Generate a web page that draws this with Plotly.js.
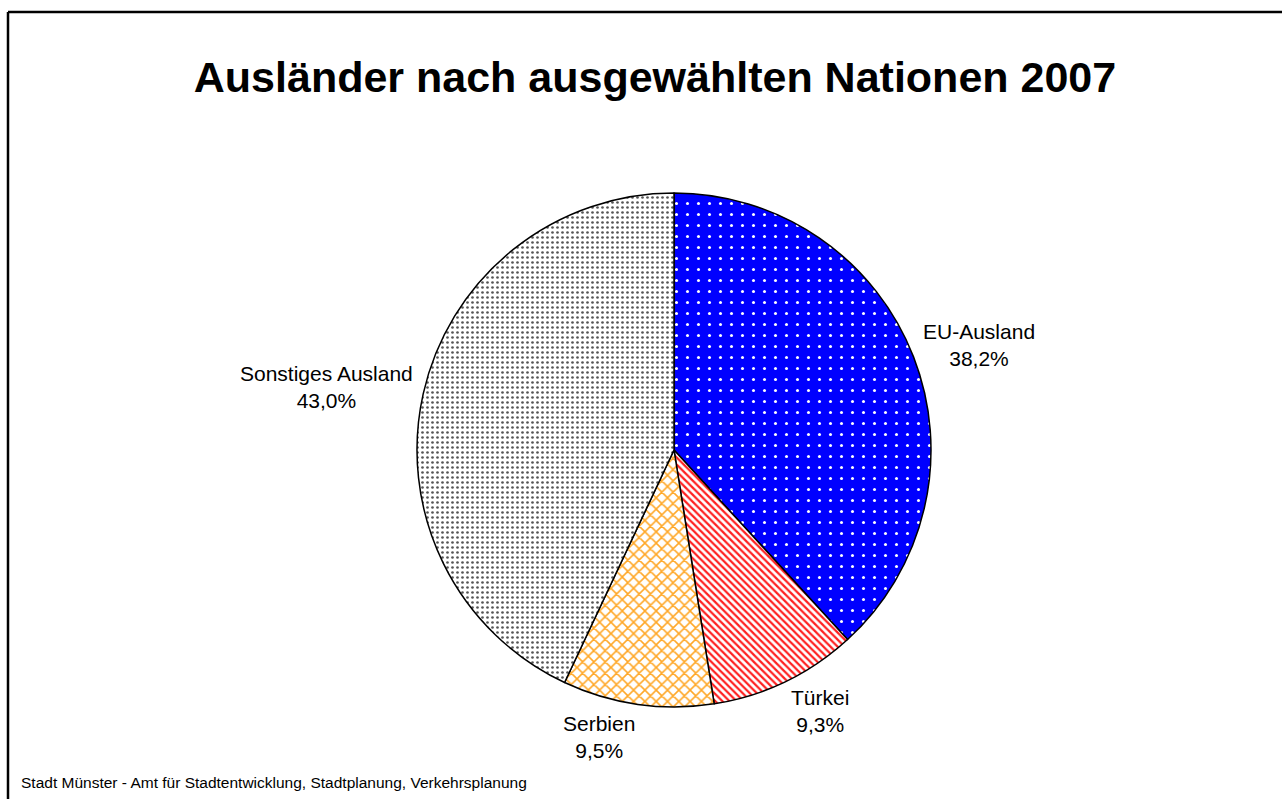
<!DOCTYPE html>
<html>
<head>
<meta charset="utf-8">
<script src="https://cdn.plot.ly/plotly-3.0.1.min.js"></script>
<style>
html,body{margin:0;padding:0;background:#fff;}
#chart{width:1282px;height:799px;}
</style>
</head>
<body>
<div id="chart"></div>
<script>
var categories = ["EU-Ausland", "Türkei", "Serbien", "Sonstiges Ausland"];
var shares = [38.2, 9.3, 9.5, 43.0];
var titleText = "Ausländer nach ausgewählten Nationen 2007";
var sourceText = "Stadt Münster - Amt für Stadtentwicklung, Stadtplanung, Verkehrsplanung";

var W = 1282, H = 799;
var cx = 674, cy = 450, R = 257;
var FONT = "Liberation Sans, Arial, sans-serif";
var LABEL_SIZE = 21;

var trace = {
  type: "pie",
  labels: categories,
  values: shares,
  sort: false,
  direction: "clockwise",
  rotation: 0,
  textinfo: "none",
  hoverinfo: "label+value",
  automargin: false,
  showlegend: false,
  domain: {
    x: [(cx - R) / W, (cx + R) / W],
    y: [(H - cy - R) / H, (H - cy + R) / H]
  },
  marker: {
    colors: ["#0000ff", "#ffffff", "#ffffff", "#ffffff"],
    line: {color: "#000", width: 1.5},
    pattern: {
      shape: [".", "\\", "x", "."],
      fgcolor: ["#ffffff", "#ff2020", "#ffa726", "#555555"],
      bgcolor: ["#0000ff", "#ffffff", "#ffffff", "#ffffff"],
      size: [11, 5, 8, 5],
      solidity: [0.06, 0.45, 0.35, 0.22],
      fillmode: "replace"
    }
  }
};

// outside labels placed at each slice's mid-angle (derived from the data)
var total = shares.reduce(function (a, b) { return a + b; }, 0);
var annotations = [];
var cum = 0;
var rl = R + 8;
var boxH = 50;
for (var i = 0; i < shares.length; i++) {
  var mid = (cum + shares[i] / 2) / total * 2 * Math.PI;
  cum += shares[i];
  var s = Math.sin(mid), c = Math.cos(mid);
  var px = cx + rl * s, py = cy - rl * c - c * boxH / 2;
  annotations.push({
    text: categories[i] + "<br>" + shares[i].toFixed(1).replace(".", ",") + "%",
    xref: "paper", yref: "paper",
    x: px / W, y: 1 - py / H,
    xanchor: s > 0.1 ? "left" : (s < -0.1 ? "right" : "center"),
    yanchor: "middle",
    align: "center",
    showarrow: false,
    font: {family: FONT, size: LABEL_SIZE, color: "#000"}
  });
}
annotations.push({
  text: sourceText,
  xref: "paper", yref: "paper",
  x: 19 / W, y: 1 - 782 / H,
  xanchor: "left", yanchor: "middle",
  showarrow: false,
  font: {family: FONT, size: 15.5, color: "#000"}
});

var layout = {
  width: W, height: H,
  margin: {l: 0, r: 0, t: 0, b: 0},
  paper_bgcolor: "#fff",
  plot_bgcolor: "#fff",
  separators: ",.",
  title: {
    text: "<b>" + titleText + "</b>",
    x: 655 / W, xanchor: "center",
    y: 1 - 77 / H, yanchor: "middle",
    yref: "paper", xref: "paper",
    font: {family: FONT, size: 43, color: "#000"}
  },
  annotations: annotations,
  shapes: [
    {type: "line", xref: "paper", yref: "paper", x0: 8 / W, x1: 1.02, y0: 1 - 12 / H, y1: 1 - 12 / H, line: {color: "#000", width: 2.5}},
    {type: "line", xref: "paper", yref: "paper", x0: 8 / W, x1: 8 / W, y0: 1 - 12 / H, y1: -0.02, line: {color: "#000", width: 2.5}}
  ]
};

Plotly.newPlot("chart", [trace], layout, {displayModeBar: false, staticPlot: true});
</script>
</body>
</html>
